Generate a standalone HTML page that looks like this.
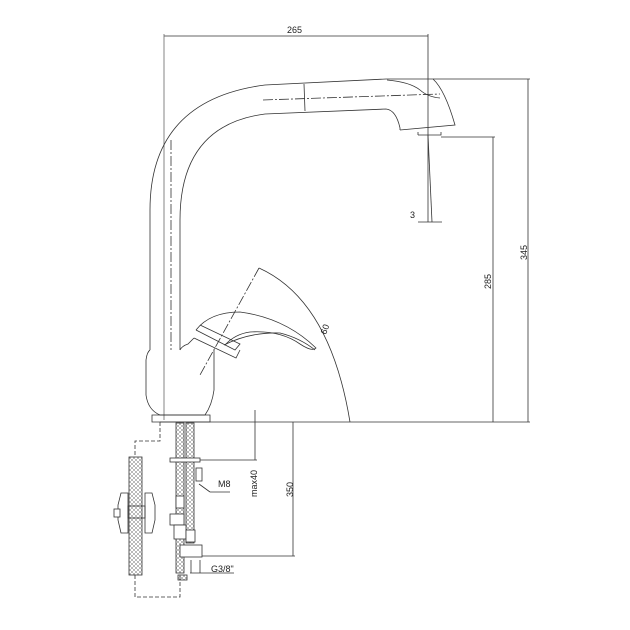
<!DOCTYPE html>
<html><head><meta charset="utf-8"><style>
html,body{margin:0;padding:0;background:#fff;width:630px;height:630px;overflow:hidden}
svg{display:block}
text{font-family:"Liberation Sans",sans-serif;font-size:9px;fill:#222}
</style></head><body>
<svg width="630" height="630" viewBox="0 0 630 630" xmlns="http://www.w3.org/2000/svg">
<defs>
<pattern id="h" width="4" height="4" patternUnits="userSpaceOnUse">
<path d="M0 4L4 0M0 0L4 4" stroke="#777" stroke-width="0.5"/>
</pattern>
</defs>
<g fill="none" stroke="#333" stroke-width="0.8">
<line x1="164" y1="36" x2="428" y2="36"/>
<line x1="164" y1="34" x2="164" y2="420" stroke="#666"/>
<line x1="428" y1="34" x2="428" y2="222"/>
<path d="M150 350 L150 210 Q150 100 265 85 L386 79"/>
<path d="M180 350 L180 220 Q180 125 265 114 L386 109 Q396 110 400 128 L400 130"/>
<path d="M386 79 L433 79 Q445 90 455 125 L400 130"/>
<path d="M387 80 Q410 82 420 90 Q428 97 440 98"/>
<line x1="304" y1="84" x2="305" y2="111"/>
<line x1="263" y1="100" x2="440" y2="94" stroke-dasharray="10,2,2,2"/>
<line x1="171" y1="140" x2="171" y2="350" stroke-dasharray="10,2,2,2"/>
<path d="M418 135 L418 132 M418 135 L441 135 L441 132"/>
<line x1="428" y1="135" x2="432" y2="222"/>
<line x1="418" y1="222" x2="442" y2="222"/>
<line x1="433" y1="79" x2="530" y2="79"/>
<line x1="528" y1="79" x2="528" y2="422"/>
<line x1="441" y1="137" x2="495" y2="137"/>
<line x1="493" y1="137" x2="493" y2="422"/>
<line x1="160" y1="422" x2="530" y2="422"/>
<path d="M150 350 Q147 352 146 360 L146 395 Q148 410 160 415 L205 415 Q212 405 214 390 L214 350"/>
<path d="M180 350 Q182 346 188 344 L194 338"/>
<path d="M152 415 L210 415 L210 422 L152 422 Z"/>
<path d="M196 330 Q210 312 240 312 Q285 318 316 348 Q312 352 300 344 Q280 330 250 332 Q235 334 225 345"/>
<path d="M196 330 L235 350 L240 344 L200 325"/>
<path d="M194 338 L236 358 L240 350"/>
<path d="M224 345 Q250 332 280 333 Q300 338 315 350" />
<path d="M259 268 Q330 300 350 422"/>
<line x1="259" y1="268" x2="200" y2="375" stroke-dasharray="10,2,2,2"/>
<line x1="255" y1="410" x2="255" y2="460"/>
<line x1="170" y1="460" x2="257" y2="460"/>
<line x1="293" y1="422" x2="293" y2="556"/>
<line x1="183" y1="556" x2="295" y2="556"/>
<line x1="199" y1="484" x2="210" y2="492" /><line x1="210" y1="492" x2="230" y2="492"/>
<line x1="190" y1="573" x2="234" y2="573"/>
<line x1="191" y1="560" x2="191" y2="573"/><line x1="200" y1="560" x2="200" y2="573"/>
<path d="M160 422 L160 441 L135 441 L135 455" stroke-dasharray="4,2"/>
<path d="M135 575 L135 597 L180 597 L180 575" stroke-dasharray="4,2"/>
</g>
<g stroke="#333" stroke-width="0.8">
<rect x="176" y="423" width="8" height="150" fill="url(#h)"/>
<rect x="186" y="423" width="8" height="120" fill="url(#h)"/>
<rect x="129" y="457" width="13" height="118" fill="url(#h)"/>
<rect x="178" y="575" width="9" height="5" fill="url(#h)"/>
</g>
<g fill="#fff" stroke="#333" stroke-width="0.8">
<path d="M121 493 L128 493 L128 533 L121 533 L118 520 L118 505 Z"/>
<path d="M145 493 L152 493 L155 505 L155 520 L152 533 L145 533 Z"/>
<rect x="114" y="509" width="6" height="8"/>
<rect x="128" y="506" width="17" height="12" fill="none"/>
<rect x="170" y="458" width="30" height="4"/>
<rect x="196" y="468" width="6" height="13"/>
<rect x="176" y="496" width="8" height="12"/>
<rect x="170" y="514" width="14" height="11"/>
<rect x="174" y="525" width="12" height="14"/>
<rect x="186" y="530" width="9" height="12"/>
<rect x="180" y="545" width="22" height="12"/>
</g>
<g>
<text x="287" y="33">265</text>
<text x="218" y="487" font-size="10">M8</text>
<text x="211" y="572">G3/8"</text>
<text transform="translate(257,497) rotate(-90)">max40</text>
<text transform="translate(293,497) rotate(-90)">350</text>
<text transform="translate(491,289) rotate(-90)">285</text>
<text transform="translate(527,260) rotate(-90)">345</text>
<text transform="translate(326,335) rotate(-70)">60</text>
<text x="410" y="218" font-size="8">3</text>
</g>
</svg>
</body></html>
